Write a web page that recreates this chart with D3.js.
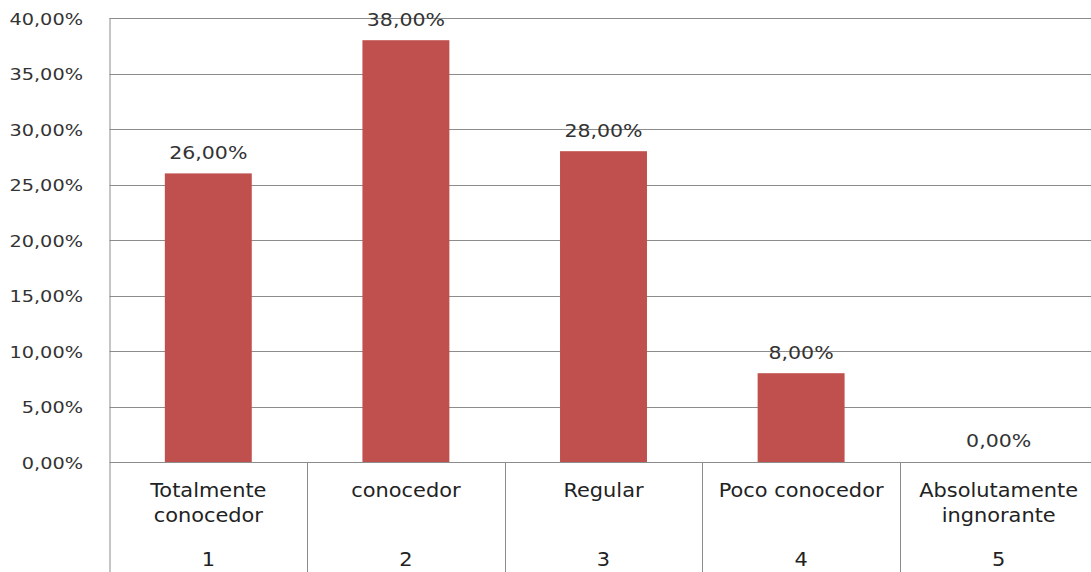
<!DOCTYPE html>
<html><head><meta charset="utf-8">
<script src="https://cdn.jsdelivr.net/npm/d3@7"></script>
<style>body{margin:0;background:#fff}svg{display:block}</style>
</head><body><svg id="c" width="1091" height="572"></svg>
<script>
const categories = ["Totalmente conocedor","conocedor","Regular","Poco conocedor","Absolutamente ingnorante"];
const categoryLines = [["Totalmente","conocedor"],["conocedor"],["Regular"],["Poco conocedor"],["Absolutamente","ingnorante"]];
const categoryNumbers = ["1","2","3","4","5"];
const values = [26, 38, 28, 8, 0];
const yTicks = [0,5,10,15,20,25,30,35,40];

(function(){
const svg = d3.select("#c");
const pLeft = 109.5, pRight = 1097.5, pTop = 18, pBottom = 462, axisBottom = 572;
const font = "DejaVu Sans, sans-serif";
const fmt = v => d3.format(".2f")(v).replace(".", ",") + "%";
const sx = (cx, k) => `translate(${cx},0) scale(${k},1) translate(${-cx},0)`;

const x = d3.scaleBand().domain(d3.range(categories.length)).range([pLeft, pRight]).paddingInner(0).paddingOuter(0);
const y = d3.scaleLinear().domain([0, 40]).range([pBottom, pTop]);
const barW = x.bandwidth() * 0.44;

svg.append("g").selectAll("line").data(yTicks).join("line")
  .attr("x1", pLeft).attr("x2", pRight)
  .attr("y1", d => Math.round(y(d)) + 0.5).attr("y2", d => Math.round(y(d)) + 0.5)
  .attr("stroke", "#8c8c8c").attr("stroke-width", 1);

svg.append("line").attr("x1", pLeft + 0.5).attr("x2", pLeft + 0.5).attr("y1", pTop).attr("y2", axisBottom)
  .attr("stroke", "#8c8c8c");

svg.append("g").selectAll("line").data(d3.range(1, categories.length)).join("line")
  .attr("x1", d => Math.round(x(d)) + 0.5).attr("x2", d => Math.round(x(d)) + 0.5)
  .attr("y1", pBottom).attr("y2", axisBottom).attr("stroke", "#8c8c8c");

svg.append("g").selectAll("text").data(yTicks).join("text")
  .attr("x", 83).attr("y", d => y(d) + 7)
  .attr("text-anchor", "end").attr("font-family", font).attr("font-size", 16.5)
  .attr("fill", "#333").text(d => fmt(d))
  .attr("transform", sx(83, 1.17));

svg.append("g").selectAll("rect").data(values).join("rect")
  .attr("x", (d, i) => x(i) + (x.bandwidth() - barW) / 2)
  .attr("y", d => y(d)).attr("width", barW).attr("height", d => y(0) - y(d))
  .attr("fill", "#C0504D");

svg.append("g").selectAll("text").data(values).join("text")
  .attr("x", (d, i) => x(i) + x.bandwidth() / 2).attr("y", d => y(d) - 14.5)
  .attr("text-anchor", "middle").attr("font-family", font).attr("font-size", 18)
  .attr("fill", "#333").text(d => fmt(d))
  .attr("transform", (d, i) => sx(x(i) + x.bandwidth() / 2, 1.14));

const cg = svg.append("g");
categoryLines.forEach((lines, i) => {
  const cx = x(i) + x.bandwidth() / 2;
  lines.forEach((t, j) => {
    cg.append("text").attr("x", cx).attr("y", 497 + j * 25)
      .attr("text-anchor", "middle").attr("font-family", font).attr("font-size", 19)
      .attr("fill", "#222").text(t)
      .attr("transform", sx(cx, 1.1));
  });
  cg.append("text").attr("x", cx).attr("y", 566)
    .attr("text-anchor", "middle").attr("font-family", font).attr("font-size", 19)
    .attr("fill", "#222").text(categoryNumbers[i])
    .attr("transform", sx(cx, 1.1));
});
})();
</script></body></html>
